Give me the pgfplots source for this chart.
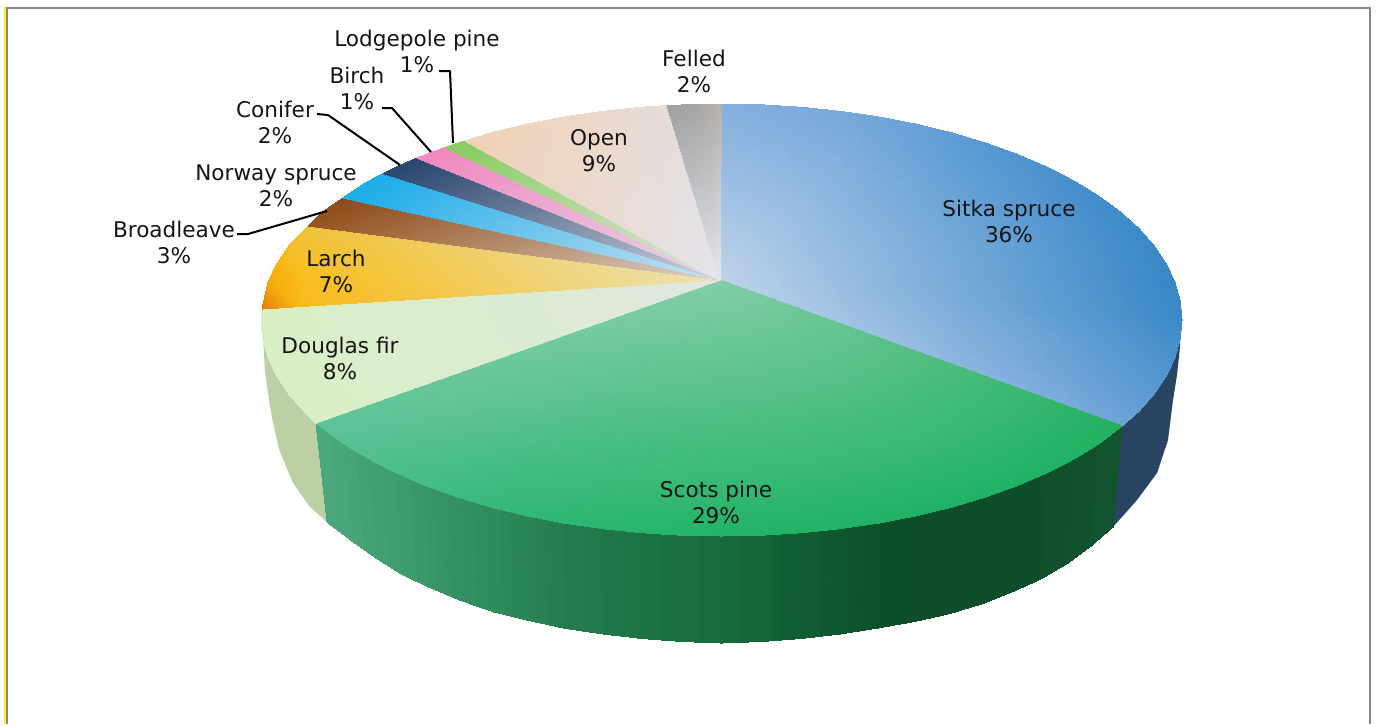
\documentclass[border=0pt]{standalone}
\usepackage{fontspec}
\setmainfont{DejaVu Sans}
\usepackage{pgfplots}
\pgfplotsset{compat=1.18}
\definecolor{lbl}{HTML}{151515}
\pgfplotsset{
  fan/.style={patch,patch type=triangle,shader=interp,mesh/color input=explicit,line width=0pt},
  lead/.style={draw=black,line width=1pt,line join=round,no markers},
}
\tikzset{lab/.style={align=center,text=lbl,font=\fontsize{10.8}{13}\selectfont,inner sep=0pt}}
\begin{document}
\begin{tikzpicture}
\begin{axis}[width=689.5pt,height=362pt,scale only axis,hide axis,clip=false,
  xmin=0,xmax=1379,ymin=0,ymax=724,y dir=reverse,enlargelimits=false]
% page extent
\addplot[draw=none,no markers] coordinates {(0,0) (1379,724)};
% frame
\addplot[draw=yellow,line width=1pt,no markers] coordinates {(5,7) (5,724)};
\addplot[draw=black!47,line width=1pt,no markers] coordinates {(7,724) (7,8) (1370,8) (1370,724)};
% Douglas fir wall
\addplot[fill={rgb,255:red,188;green,208;blue,166},draw=none,no markers] coordinates {(316,423) (304.1,411.3) (288.8,393.9) (276.7,375.9) (268,357.5) (263,335) (265,372) (269,400) (273,423) (279,449) (293,483) (310,507) (327,522)} -- cycle;
% Sitka spruce wall
\addplot[fill={rgb,255:red,40;green,68;blue,98},draw=none,no markers] coordinates {(1122,426) (1138.9,411.3) (1154.2,393.9) (1166.3,375.9) (1175,357.5) (1180,335) (1180,347) (1177,375) (1173,400) (1168,440) (1157,473) (1137,500) (1113,527)} -- cycle;
% Scots pine wall
\addplot[patch,patch type=rectangle,shader=interp,mesh/color input=explicit] table[meta=c] {
x y c
316 423 rgb255=74,168,124
327 522 rgb255=74,168,124
352 541 rgb255=70,164,119
344.3 443.9 rgb255=70,164,119
344.3 443.9 rgb255=70,164,119
352 541 rgb255=70,164,119
376 558 rgb255=66,159,114
368.7 458.8 rgb255=66,159,114
368.7 458.8 rgb255=66,159,114
376 558 rgb255=66,159,114
402 574.5 rgb255=62,155,109
395.9 472.7 rgb255=62,155,109
395.9 472.7 rgb255=62,155,109
402 574.5 rgb255=62,155,109
430 587.5 rgb255=58,150,104
425.5 485.5 rgb255=58,150,104
425.5 485.5 rgb255=58,150,104
430 587.5 rgb255=58,150,104
461 600.5 rgb255=52,144,98
457.4 496.9 rgb255=52,144,98
457.4 496.9 rgb255=52,144,98
461 600.5 rgb255=52,144,98
494 612 rgb255=47,138,92
491.2 507.1 rgb255=47,138,92
491.2 507.1 rgb255=47,138,92
494 612 rgb255=47,138,92
529 620.5 rgb255=41,131,85
526.9 515.8 rgb255=41,131,85
526.9 515.8 rgb255=41,131,85
529 620.5 rgb255=41,131,85
566 628.5 rgb255=35,124,78
564 523 rgb255=35,124,78
564 523 rgb255=35,124,78
566 628.5 rgb255=35,124,78
603.5 634 rgb255=31,119,73
602.3 528.6 rgb255=31,119,73
602.3 528.6 rgb255=31,119,73
603.5 634 rgb255=31,119,73
642 638.5 rgb255=28,115,68
641.5 532.7 rgb255=28,115,68
641.5 532.7 rgb255=28,115,68
642 638.5 rgb255=28,115,68
682 641.5 rgb255=26,110,64
681.4 535.2 rgb255=26,110,64
681.4 535.2 rgb255=26,110,64
682 641.5 rgb255=26,110,64
721.5 643 rgb255=24,106,60
721.5 536 rgb255=24,106,60
721.5 536 rgb255=24,106,60
721.5 643 rgb255=24,106,60
761.5 641.5 rgb255=21,99,55
761.6 535.2 rgb255=21,99,55
761.6 535.2 rgb255=21,99,55
761.5 641.5 rgb255=21,99,55
801 638.5 rgb255=18,92,51
801.5 532.7 rgb255=18,92,51
801.5 532.7 rgb255=18,92,51
801 638.5 rgb255=18,92,51
840 634 rgb255=15,85,47
840.7 528.6 rgb255=15,85,47
840.7 528.6 rgb255=15,85,47
840 634 rgb255=15,85,47
878 628 rgb255=13,79,43
879 523 rgb255=13,79,43
879 523 rgb255=13,79,43
878 628 rgb255=13,79,43
914.5 621.5 rgb255=13,77,42
916.1 515.8 rgb255=13,77,42
916.1 515.8 rgb255=13,77,42
914.5 621.5 rgb255=13,77,42
950 613.5 rgb255=14,76,42
951.8 507.1 rgb255=14,76,42
951.8 507.1 rgb255=14,76,42
950 613.5 rgb255=14,76,42
983 603.5 rgb255=14,77,42
985.6 496.9 rgb255=14,77,42
985.6 496.9 rgb255=14,77,42
983 603.5 rgb255=14,77,42
1013 591.5 rgb255=15,78,43
1017.5 485.5 rgb255=15,78,43
1017.5 485.5 rgb255=15,78,43
1013 591.5 rgb255=15,78,43
1042 578.5 rgb255=16,80,43
1047.1 472.7 rgb255=16,80,43
1047.1 472.7 rgb255=16,80,43
1042 578.5 rgb255=16,80,43
1068 563 rgb255=17,82,44
1074.3 458.8 rgb255=17,82,44
1074.3 458.8 rgb255=17,82,44
1068 563 rgb255=17,82,44
1091 546 rgb255=18,84,45
1098.7 443.9 rgb255=18,84,45
1098.7 443.9 rgb255=18,84,45
1091 546 rgb255=18,84,45
1113 527 rgb255=19,86,46
1122 426 rgb255=19,86,46
};
% Sitka spruce top
\addplot[fan] table[meta=c] {
x y c
720 280 rgb255=188,210,234
721.5 104 rgb255=130,176,222
761.6 104.8 rgb255=126,173,221
720 280 rgb255=188,210,234
761.6 104.8 rgb255=126,173,221
801.5 107.3 rgb255=122,170,220
720 280 rgb255=188,210,234
801.5 107.3 rgb255=122,170,220
840.7 111.4 rgb255=116,167,218
720 280 rgb255=188,210,234
840.7 111.4 rgb255=116,167,218
879 117 rgb255=110,164,216
720 280 rgb255=188,210,234
879 117 rgb255=110,164,216
916.1 124.2 rgb255=102,160,214
720 280 rgb255=188,210,234
916.1 124.2 rgb255=102,160,214
951.8 132.9 rgb255=94,156,212
720 280 rgb255=188,210,234
951.8 132.9 rgb255=94,156,212
985.6 143.1 rgb255=86,152,210
720 280 rgb255=188,210,234
985.6 143.1 rgb255=86,152,210
1017.5 154.5 rgb255=79,148,208
720 280 rgb255=188,210,234
1017.5 154.5 rgb255=79,148,208
1047.1 167.3 rgb255=74,145,206
720 280 rgb255=188,210,234
1047.1 167.3 rgb255=74,145,206
1074.3 181.2 rgb255=70,142,204
720 280 rgb255=188,210,234
1074.3 181.2 rgb255=70,142,204
1098.7 196.1 rgb255=66,140,203
720 280 rgb255=188,210,234
1098.7 196.1 rgb255=66,140,203
1120.3 212 rgb255=63,138,202
720 280 rgb255=188,210,234
1120.3 212 rgb255=63,138,202
1138.9 228.7 rgb255=60,137,201
720 280 rgb255=188,210,234
1138.9 228.7 rgb255=60,137,201
1154.2 246.1 rgb255=58,136,200
720 280 rgb255=188,210,234
1154.2 246.1 rgb255=58,136,200
1166.3 264.1 rgb255=57,135,199
720 280 rgb255=188,210,234
1166.3 264.1 rgb255=57,135,199
1175 282.5 rgb255=56,134,198
720 280 rgb255=188,210,234
1175 282.5 rgb255=56,134,198
1180.2 301.2 rgb255=57,135,198
720 280 rgb255=188,210,234
1180.2 301.2 rgb255=57,135,198
1182 320 rgb255=58,136,198
720 280 rgb255=188,210,234
1182 320 rgb255=58,136,198
1180.2 338.8 rgb255=66,140,201
720 280 rgb255=188,210,234
1180.2 338.8 rgb255=66,140,201
1175 357.5 rgb255=74,144,204
720 280 rgb255=188,210,234
1175 357.5 rgb255=74,144,204
1166.3 375.9 rgb255=82,148,206
720 280 rgb255=188,210,234
1166.3 375.9 rgb255=82,148,206
1154.2 393.9 rgb255=90,152,208
720 280 rgb255=188,210,234
1154.2 393.9 rgb255=90,152,208
1138.9 411.3 rgb255=100,158,212
720 280 rgb255=188,210,234
1138.9 411.3 rgb255=100,158,212
1122 426 rgb255=110,164,216
};
% Scots pine top
\addplot[fan] table[meta=c] {
x y c
720 280 rgb255=130,205,165
1122 426 rgb255=34,176,96
1098.7 443.9 rgb255=33,177,97
720 280 rgb255=130,205,165
1098.7 443.9 rgb255=33,177,97
1074.3 458.8 rgb255=32,178,98
720 280 rgb255=130,205,165
1074.3 458.8 rgb255=32,178,98
1047.1 472.7 rgb255=32,178,99
720 280 rgb255=130,205,165
1047.1 472.7 rgb255=32,178,99
1017.5 485.5 rgb255=32,178,100
720 280 rgb255=130,205,165
1017.5 485.5 rgb255=32,178,100
985.6 496.9 rgb255=32,178,100
720 280 rgb255=130,205,165
985.6 496.9 rgb255=32,178,100
951.8 507.1 rgb255=32,178,100
720 280 rgb255=130,205,165
951.8 507.1 rgb255=32,178,100
916.1 515.8 rgb255=32,178,100
720 280 rgb255=130,205,165
916.1 515.8 rgb255=32,178,100
879 523 rgb255=32,178,100
720 280 rgb255=130,205,165
879 523 rgb255=32,178,100
840.7 528.6 rgb255=33,178,101
720 280 rgb255=130,205,165
840.7 528.6 rgb255=33,178,101
801.5 532.7 rgb255=33,179,102
720 280 rgb255=130,205,165
801.5 532.7 rgb255=33,179,102
761.6 535.2 rgb255=34,179,103
720 280 rgb255=130,205,165
761.6 535.2 rgb255=34,179,103
721.5 536 rgb255=34,180,104
720 280 rgb255=130,205,165
721.5 536 rgb255=34,180,104
681.4 535.2 rgb255=36,180,106
720 280 rgb255=130,205,165
681.4 535.2 rgb255=36,180,106
641.5 532.7 rgb255=38,181,108
720 280 rgb255=130,205,165
641.5 532.7 rgb255=38,181,108
602.3 528.6 rgb255=41,181,111
720 280 rgb255=130,205,165
602.3 528.6 rgb255=41,181,111
564 523 rgb255=44,182,114
720 280 rgb255=130,205,165
564 523 rgb255=44,182,114
526.9 515.8 rgb255=48,183,118
720 280 rgb255=130,205,165
526.9 515.8 rgb255=48,183,118
491.2 507.1 rgb255=52,184,122
720 280 rgb255=130,205,165
491.2 507.1 rgb255=52,184,122
457.4 496.9 rgb255=59,186,127
720 280 rgb255=130,205,165
457.4 496.9 rgb255=59,186,127
425.5 485.5 rgb255=66,188,132
720 280 rgb255=130,205,165
425.5 485.5 rgb255=66,188,132
395.9 472.7 rgb255=73,189,137
720 280 rgb255=130,205,165
395.9 472.7 rgb255=73,189,137
368.7 458.8 rgb255=80,191,142
720 280 rgb255=130,205,165
368.7 458.8 rgb255=80,191,142
344.3 443.9 rgb255=86,193,146
720 280 rgb255=130,205,165
344.3 443.9 rgb255=86,193,146
316 423 rgb255=92,196,150
};
% Douglas fir top
\addplot[fan] table[meta=c] {
x y c
720 280 rgb255=222,232,222
316 423 rgb255=216,240,196
304.1 411.3 rgb255=216,240,196
720 280 rgb255=222,232,222
304.1 411.3 rgb255=216,240,196
288.8 393.9 rgb255=216,240,196
720 280 rgb255=222,232,222
288.8 393.9 rgb255=216,240,196
276.7 375.9 rgb255=216,240,196
720 280 rgb255=222,232,222
276.7 375.9 rgb255=216,240,196
268 357.5 rgb255=216,240,196
720 280 rgb255=222,232,222
268 357.5 rgb255=216,240,196
262.8 338.8 rgb255=216,240,196
720 280 rgb255=222,232,222
262.8 338.8 rgb255=216,240,196
261 320 rgb255=216,240,196
720 280 rgb255=222,232,222
261 320 rgb255=216,240,196
262 309 rgb255=216,240,196
};
% Larch top
\addplot[fan] table[meta=c] {
x y c
262 309 rgb255=226,124,6
268 282.5 rgb255=246,170,10
300 306.6 rgb255=247,185,25
268 282.5 rgb255=246,170,10
305 281.5 rgb255=247,190,30
300 306.6 rgb255=247,185,25
268 282.5 rgb255=246,170,10
276.7 264.1 rgb255=246,182,20
305 281.5 rgb255=247,190,30
276.7 264.1 rgb255=246,182,20
288.8 246.1 rgb255=245,190,40
305 281.5 rgb255=247,190,30
288.8 246.1 rgb255=245,190,40
308 226 rgb255=240,195,60
305 281.5 rgb255=247,190,30
720 280 rgb255=236,226,180
300 306.6 rgb255=247,185,25
305 281.5 rgb255=247,190,30
720 280 rgb255=236,226,180
305 281.5 rgb255=247,190,30
308 226 rgb255=240,195,60
};
% Broadleave top
\addplot[fan] table[meta=c] {
x y c
720 280 rgb255=220,210,200
308 226 rgb255=150,84,30
322.7 212 rgb255=145,78,26
720 280 rgb255=220,210,200
322.7 212 rgb255=145,78,26
343 198 rgb255=140,74,26
};
% Norway spruce top
\addplot[fan] table[meta=c] {
x y c
720 280 rgb255=205,225,240
343 198 rgb255=26,172,232
362 185 rgb255=26,172,232
720 280 rgb255=205,225,240
362 185 rgb255=26,172,232
383 173.5 rgb255=26,172,232
};
% Conifer top
\addplot[fan] table[meta=c] {
x y c
720 280 rgb255=205,210,222
383 173.5 rgb255=40,70,110
400 165.5 rgb255=40,70,110
720 280 rgb255=205,210,222
400 165.5 rgb255=40,70,110
417 158 rgb255=40,70,110
};
% Birch top
\addplot[fan] table[meta=c] {
x y c
720 280 rgb255=230,215,230
417 158 rgb255=240,136,192
431 152.5 rgb255=240,136,192
720 280 rgb255=230,215,230
431 152.5 rgb255=240,136,192
445 147.5 rgb255=240,136,192
};
% Lodgepole pine top
\addplot[fan] table[meta=c] {
x y c
720 280 rgb255=225,230,220
445 147.5 rgb255=136,204,96
465 141 rgb255=136,204,96
};
% Open top
\addplot[fan] table[meta=c] {
x y c
720 280 rgb255=228,228,236
465 141 rgb255=240,208,180
491.2 132.9 rgb255=240,210,184
720 280 rgb255=228,228,236
491.2 132.9 rgb255=240,210,184
526.9 124.2 rgb255=239,212,190
720 280 rgb255=228,228,236
526.9 124.2 rgb255=239,212,190
564 117 rgb255=238,214,195
720 280 rgb255=228,228,236
564 117 rgb255=238,214,195
602.3 111.4 rgb255=234,216,202
720 280 rgb255=228,228,236
602.3 111.4 rgb255=234,216,202
641.5 107.3 rgb255=230,218,210
720 280 rgb255=228,228,236
641.5 107.3 rgb255=230,218,210
667 105.5 rgb255=228,220,214
};
% Felled top
\addplot[fan] table[meta=c] {
x y c
720 280 rgb255=228,230,236
667 105.5 rgb255=160,160,160
695 104.5 rgb255=165,165,165
720 280 rgb255=228,230,236
695 104.5 rgb255=165,165,165
721.5 104 rgb255=180,176,172
};
% leaders
\addplot[lead] coordinates {(439,71) (450,71) (453,143)};
\addplot[lead] coordinates {(382,108) (392,108) (431,152)};
\addplot[lead] coordinates {(317,114) (328,115) (400,165)};
\addplot[lead] coordinates {(237,234) (248,234) (327,211)};
% labels
\node[lab] at (axis cs:1009,221) {Sitka spruce\\36\%};
\node[lab] at (axis cs:716,502) {Scots pine\\29\%};
\node[lab] at (axis cs:340,358) {Douglas fir\\8\%};
\node[lab] at (axis cs:336,271) {Larch\\7\%};
\node[lab] at (axis cs:599,151) {Open\\9\%};
\node[lab] at (axis cs:694,71) {Felled\\2\%};
\node[lab] at (axis cs:417,51) {Lodgepole pine\\1\%};
\node[lab] at (axis cs:357,88) {Birch\\1\%};
\node[lab] at (axis cs:275,122) {Conifer\\2\%};
\node[lab] at (axis cs:276,185.5) {Norway spruce\\2\%};
\node[lab] at (axis cs:174,242.5) {Broadleave\\3\%};
\end{axis}
\end{tikzpicture}
\end{document}
